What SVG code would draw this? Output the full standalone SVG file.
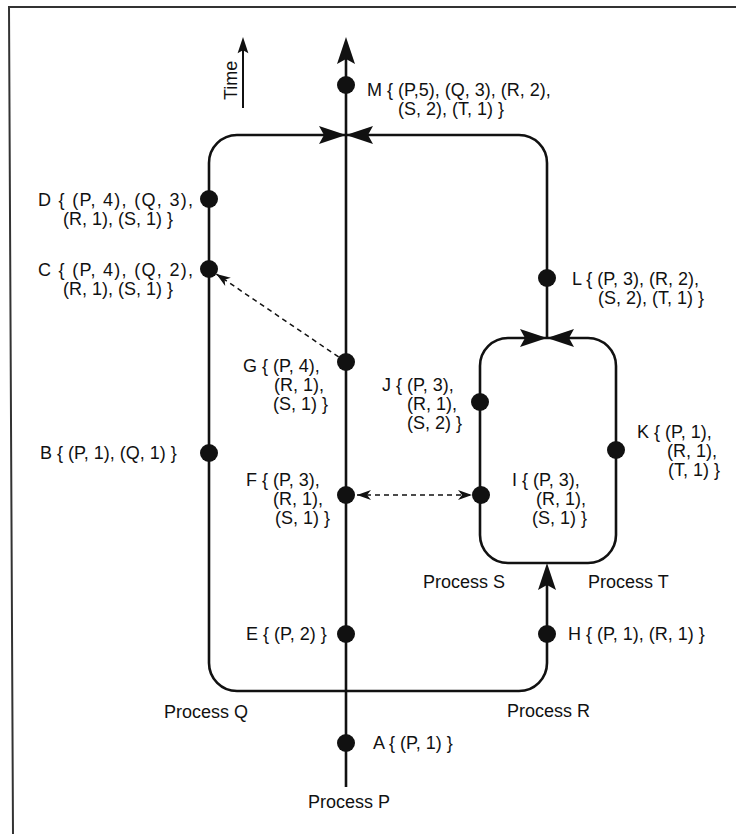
<svg xmlns="http://www.w3.org/2000/svg" width="736" height="834" viewBox="0 0 736 834">
<style>
text{font-family:"Liberation Sans",Arial,Helvetica,sans-serif;font-size:18px;fill:#111}
.ln{fill:none;stroke:#111;stroke-width:2.6}
.dash{fill:none;stroke:#111;stroke-width:1.5;stroke-dasharray:5 4}
.dot{fill:#111}
.ah{fill:#111}
.frame{fill:none;stroke:#333;stroke-width:2}
</style>
<defs>
<path id="ah" d="M0,0 L-27,-9 L-22,0 L-27,9 Z"/>
<marker id="sa" markerUnits="userSpaceOnUse" markerWidth="16" markerHeight="12" viewBox="-15 -6 16 12" refX="0" refY="0" orient="auto">
<path d="M0,0 L-14,-5 L-10,0 L-14,5 Z" fill="#111"/>
</marker>
<marker id="sa0" markerUnits="userSpaceOnUse" markerWidth="16" markerHeight="12" viewBox="-1 -6 16 12" refX="0" refY="0" orient="auto">
<path d="M0,0 L14,-5 L10,0 L14,5 Z" fill="#111"/>
</marker>
</defs>
<rect width="736" height="834" fill="#fff"/>
<path class="frame" d="M736,7 H9 L13,834"/>
<g id="connectors">
<path class="ln" d="M346,787 V50"/>
<path class="ln" d="M346,135 H237 A28,28 0 0 0 209,163 V663 A28,28 0 0 0 237,691 H519 A28,28 0 0 0 547,663 V575"/>
<path class="ln" d="M346,135 H519 A28,28 0 0 1 547,163 V338"/>
<path class="ln" d="M547,338 H508 A28,28 0 0 0 480,366 V535 A28,28 0 0 0 508,563 H588 A28,28 0 0 0 616,535 V366 A28,28 0 0 0 588,338 Z"/>
<use href="#ah" class="ah" transform="translate(346,37) rotate(-90)"/>
<use href="#ah" class="ah" transform="translate(346,135)"/>
<use href="#ah" class="ah" transform="translate(346,135) rotate(180)"/>
<use href="#ah" class="ah" transform="translate(547,338)"/>
<use href="#ah" class="ah" transform="translate(547,338) rotate(180)"/>
<use href="#ah" class="ah" transform="translate(547,563) rotate(-90)"/>
<path class="dash" d="M338.6,356.9 L216.4,274.1" marker-end="url(#sa)"/>
<path class="dash" d="M357,495 L472,495" marker-start="url(#sa0)" marker-end="url(#sa)"/>
</g>
<g id="time-axis">
<path class="ln" d="M243,108 V48" style="stroke-width:2"/>
<use href="#ah" class="ah" transform="translate(243,37) rotate(-90) scale(0.6)"/>
<text transform="translate(237,100) rotate(-90)">Time</text>
</g>
<g id="node-M"><circle class="dot" cx="346" cy="85" r="9"/><text x="367" y="96">M { (P,5), (Q, 3), (R, 2),</text><text x="398" y="115">(S, 2), (T, 1) }</text></g>
<g id="node-D"><circle class="dot" cx="209" cy="199" r="9"/><text x="38" y="206" textLength="155">D { (P, 4), (Q, 3),</text><text x="63" y="225">(R, 1), (S, 1) }</text></g>
<g id="node-C"><circle class="dot" cx="209" cy="269" r="9"/><text x="38" y="276" textLength="155">C { (P, 4), (Q, 2),</text><text x="63" y="295">(R, 1), (S, 1) }</text></g>
<g id="node-B"><circle class="dot" cx="209" cy="453" r="9"/><text x="40" y="459">B { (P, 1), (Q, 1) }</text></g>
<g id="node-L"><circle class="dot" cx="547" cy="278" r="9"/><text x="572" y="285">L { (P, 3), (R, 2),</text><text x="598" y="304">(S, 2), (T, 1) }</text></g>
<g id="node-G"><circle class="dot" cx="346" cy="362" r="9"/><text x="243" y="372">G { (P, 4),</text><text x="274" y="391">(R, 1),</text><text x="273" y="410">(S, 1) }</text></g>
<g id="node-J"><circle class="dot" cx="480" cy="402" r="9"/><text x="382" y="391">J { (P, 3),</text><text x="407" y="410">(R, 1),</text><text x="407" y="429">(S, 2) }</text></g>
<g id="node-K"><circle class="dot" cx="616" cy="450" r="9"/><text x="637" y="438">K { (P, 1),</text><text x="667" y="457">(R, 1),</text><text x="668" y="476">(T, 1) }</text></g>
<g id="node-F"><circle class="dot" cx="346" cy="495" r="9"/><text x="246" y="486">F { (P, 3),</text><text x="273" y="505">(R, 1),</text><text x="275" y="524">(S, 1) }</text></g>
<g id="node-I"><circle class="dot" cx="481" cy="495" r="9"/><text x="512" y="486">I { (P, 3),</text><text x="536" y="505">(R, 1),</text><text x="532" y="524">(S, 1) }</text></g>
<g id="node-E"><circle class="dot" cx="346" cy="634" r="9"/><text x="246" y="640">E { (P, 2) }</text></g>
<g id="node-H"><circle class="dot" cx="547" cy="634" r="9"/><text x="568" y="640">H { (P, 1), (R, 1) }</text></g>
<g id="node-A"><circle class="dot" cx="346" cy="743" r="9"/><text x="373" y="749">A { (P, 1) }</text></g>
<g id="process-labels">
<text x="164" y="718">Process Q</text>
<text x="507" y="717">Process R</text>
<text x="308" y="808">Process P</text>
<text x="423" y="588">Process S</text>
<text x="588" y="588">Process T</text>
</g>
</svg>
